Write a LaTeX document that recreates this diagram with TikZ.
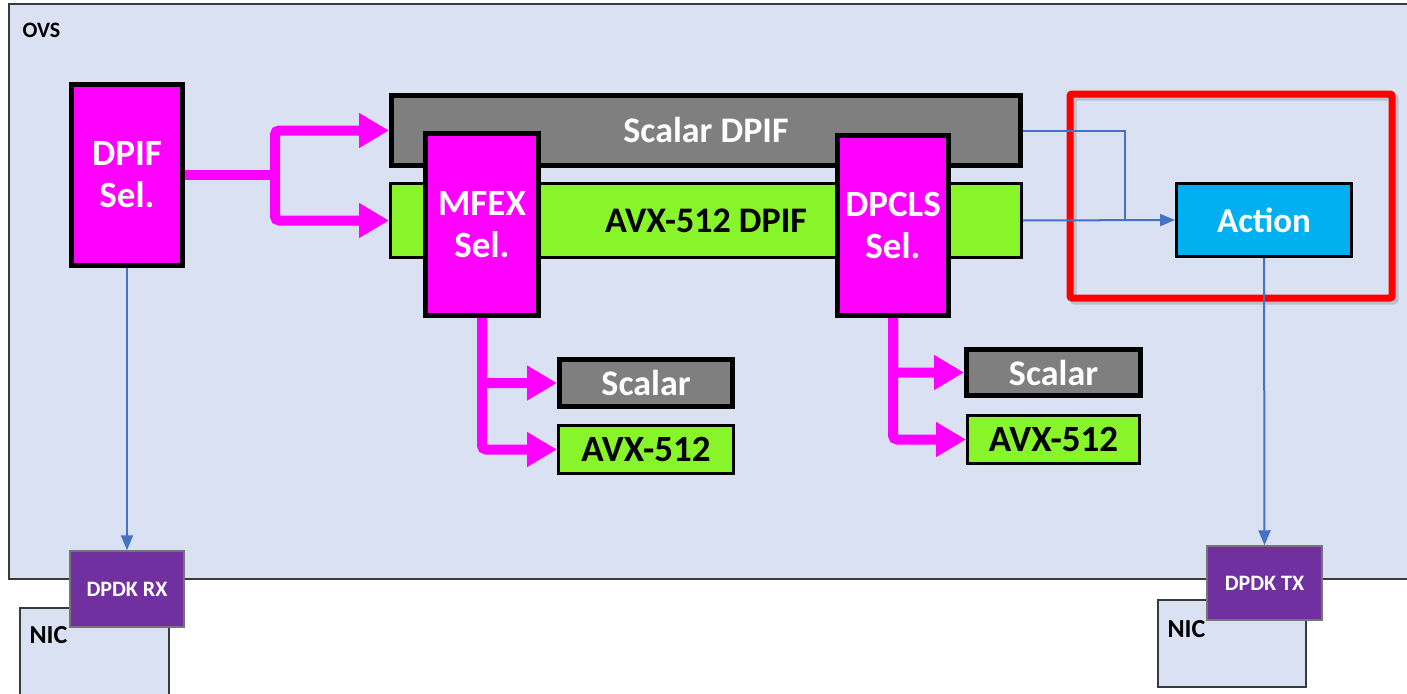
\documentclass[tikz,border=0pt]{standalone}
\usepackage{fontspec}
\setmainfont{Carlito}
\usetikzlibrary{arrows.meta}
\definecolor{ovsfill}{HTML}{DAE1F3}
\definecolor{mag}{HTML}{FF00FF}
\definecolor{gry}{HTML}{7F7F7F}
\definecolor{grn}{HTML}{88F52A}
\definecolor{cyn}{HTML}{00B0F0}
\definecolor{prp}{HTML}{7030A0}
\definecolor{blu}{HTML}{4472C4}
\definecolor{bord}{HTML}{3A3A3A}
\tikzset{
  box/.style={draw=black, rectangle, inner sep=0pt, font=\bfseries, align=center},
  selbox/.style={box, fill=mag, text=white, line width=5pt, font=\fontsize{37}{42}\selectfont\bfseries},
  graybox/.style={box, fill=gry, text=white, line width=5pt},
  greenbox/.style={box, fill=grn, text=black, line width=3pt},
  dpdkbox/.style={box, fill=prp, draw=bord!70, line width=1.5pt, text=white, font=\fontsize{22}{26}\selectfont\bfseries},
  magarrow/.style={draw=mag, line width=10pt, rounded corners=4pt, -{Triangle[length=30pt,width=33pt]}},
  magline/.style={draw=mag, line width=10pt},
  bluearrow/.style={draw=blu, line width=2pt, -{Triangle[length=15pt,width=12pt]}},
  blueline/.style={draw=blu, line width=2pt},
  niclabel/.style={anchor=west, font=\fontsize{26}{30}\selectfont\bfseries},
}
\begin{document}
\begin{tikzpicture}[x=1pt,y=-1pt]
\useasboundingbox (0,0) rectangle (1407,693);
% OVS container
\draw[fill=ovsfill, draw=bord, line width=2pt] (9,4) rectangle (1420,579);
\node[anchor=west, font=\fontsize{22}{26}\selectfont\bfseries] (ovs) at (19,30) {OVS};
% NICs
\draw[fill=ovsfill, draw=bord, line width=2pt] (20,608) rectangle (169,705);
\node[niclabel] (nicl) at (26,635) {NIC};
\draw[fill=ovsfill, draw=bord, line width=2pt] (1158,600) rectangle (1306,687);
\node[niclabel] (nicr) at (1164,629) {NIC};
% DPIF boxes
\node[graybox, minimum width=629pt, minimum height=70pt, font=\fontsize{36}{40}\selectfont\bfseries] (sdpif) at (706,130.5) {Scalar DPIF};
\node[greenbox, minimum width=631pt, minimum height=74pt, font=\fontsize{36}{40}\selectfont\bfseries] (adpif) at (706,220.5) {AVX-512 DPIF};
% selectors
\node[selbox, minimum width=111pt, minimum height=181pt] (dpif) at (127,175) {DPIF\\Sel.};
\node[selbox, minimum width=113pt, minimum height=182pt] (mfex) at (482,224.5) {MFEX\\Sel.};
\node[selbox, minimum width=111pt, minimum height=180pt] (dpcls) at (893,225.5) {DPCLS\\Sel.};
% small impl boxes
\node[graybox, minimum width=173pt, minimum height=47pt, font=\fontsize{36}{40}\selectfont\bfseries] (sc1) at (646,383) {Scalar};
\node[greenbox, minimum width=175pt, minimum height=48pt, font=\fontsize{37}{40}\selectfont\bfseries] (av1) at (646,449.5) {AVX-512};
\node[graybox, minimum width=174pt, minimum height=46pt, font=\fontsize{36}{40}\selectfont\bfseries] (sc2) at (1053.5,372.5) {Scalar};
\node[greenbox, minimum width=172pt, minimum height=48pt, font=\fontsize{37}{40}\selectfont\bfseries] (av2) at (1053.5,439.5) {AVX-512};
% action
\node[box, fill=cyn, text=white, line width=3pt, minimum width=175pt, minimum height=73pt, font=\fontsize{35}{40}\selectfont\bfseries] (action) at (1264,220) {Action};
% red highlight with soft shadow
\draw[black, opacity=0.15, line width=7pt, rounded corners=2pt] (1073,97) rectangle (1395,301);
\draw[red, line width=7pt, rounded corners=2pt] (1070,94) rectangle (1392,298);
% DPDK
\node[dpdkbox, minimum width=114pt, minimum height=76pt] (rx) at (127,589) {DPDK RX};
\node[dpdkbox, minimum width=115pt, minimum height=74pt] (tx) at (1264.5,583) {DPDK TX};
% magenta connectors
\coordinate (j1) at (275,175);
\draw[magline] (dpif.east) -- (j1);
\draw[magarrow] (j1) |- (sdpif.west);
\draw[magarrow] (j1) |- (adpif.west);
\draw[magarrow] (mfex.south) |- (sc1.west);
\draw[magarrow] (mfex.south) |- (av1.west);
\draw[magarrow] (dpcls.south) |- (sc2.west);
\draw[magarrow] (dpcls.south) |- (av2.west);
% blue connectors
\coordinate (jn) at (1125,220);
\draw[blueline] (sdpif.east) -| (jn);
\draw[bluearrow] (adpif.east) -- (action.west);
\draw[bluearrow] (dpif.south) -- (rx.north);
\draw[bluearrow] (action.south) -- (tx.north);
\end{tikzpicture}
\end{document}
